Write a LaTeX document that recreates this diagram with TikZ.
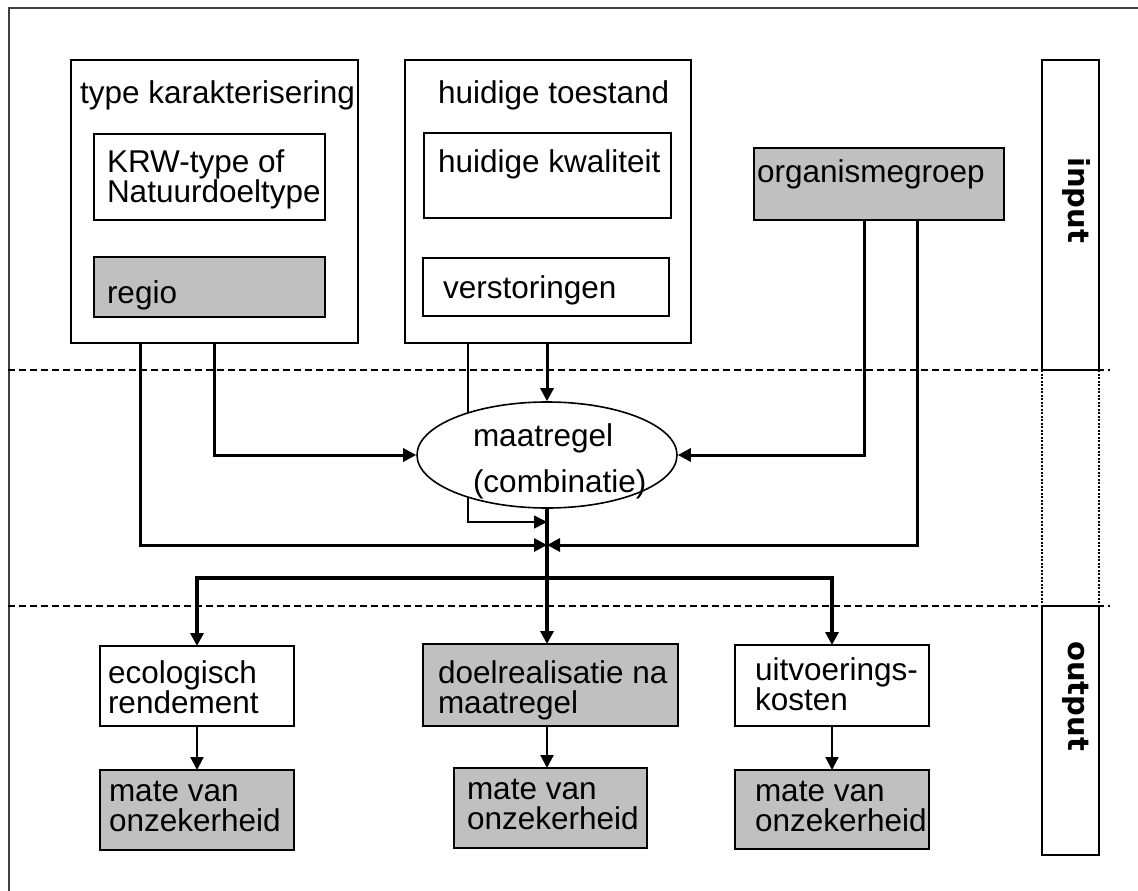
\documentclass[tikz,border=0pt]{standalone}
\usepackage{fontspec}
\setmainfont{Liberation Sans}
\newfontfamily\dv{DejaVu Sans}
\usetikzlibrary{arrows.meta,shapes.geometric}
\definecolor{boxgray}{RGB}{192,192,192}
\begin{document}
\begin{tikzpicture}[x=1pt,y=-1pt,
  box/.style={draw, line width=2pt, anchor=north west, inner sep=0pt, outer sep=0pt},
  graybox/.style={box, fill=boxgray},
  txt/.style={anchor=base west, inner sep=0pt, outer sep=0pt, font=\fontsize{31.5}{30}\selectfont},
  sidetxt/.style={rotate=-90, inner sep=0pt, font=\dv\bfseries\fontsize{29}{30}\selectfont},
  tip/.style={-{Triangle[length=13pt,width=13pt]}},
  conn/.style={tip, line width=3pt},
  thinconn/.style={tip, line width=1.6pt},
  boldconn/.style={tip, line width=4.2pt},
  downconn/.style={tip, line width=2.2pt},
  sepline/.style={line width=2pt, dash pattern=on 7pt off 4pt},
]
\useasboundingbox (0,0) rectangle (1138,891);

% outer frame (top and left edge)
\draw[line width=1.5pt, black!75] (9,891) -- (9,8) -- (1138,8);

% input side boxes
\node[box, minimum width=287pt, minimum height=283pt] (type) at (71,60) {};
\node[box, minimum width=231pt, minimum height=86pt] (krw) at (94,134) {};
\node[graybox, minimum width=231pt, minimum height=60pt] (regio) at (94,257) {};
\node[box, minimum width=286pt, minimum height=283pt] (huid) at (405,60) {};
\node[box, minimum width=247pt, minimum height=85pt] (kwal) at (424,133) {};
\node[box, minimum width=246pt, minimum height=58pt] (verst) at (423,258) {};
\node[graybox, minimum width=250pt, minimum height=72pt] (org) at (754,148) {};

% output side boxes
\node[box, minimum width=194pt, minimum height=80pt] (eco) at (100,646) {};
\node[graybox, minimum width=255pt, minimum height=82pt] (doel) at (423,644) {};
\node[box, minimum width=194pt, minimum height=81pt] (uitv) at (735,645) {};
\node[graybox, minimum width=194pt, minimum height=80pt] (mA) at (100,770) {};
\node[graybox, minimum width=193pt, minimum height=80pt] (mB) at (454,768) {};
\node[graybox, minimum width=194pt, minimum height=79pt] (mC) at (735,770) {};

% right column
\node[box, minimum width=57pt, minimum height=310pt] (inbox) at (1042,60) {};
\node[box, minimum width=57pt, minimum height=249pt] (outbox) at (1042,606) {};
\draw[line width=1.6pt, dash pattern=on 2pt off 1.5pt] (inbox.south west) -- (outbox.north west);
\draw[line width=1.6pt, dash pattern=on 2pt off 1.5pt] (inbox.south east) -- (outbox.north east);
\node[sidetxt] (inlabel) at (1076,200) {input};
\node[sidetxt] (outlabel) at (1076,696) {output};

% separator lines
\draw[sepline] (8,370) -- (1110,370);
\draw[sepline] (8,606) -- (1110,606);

% junction coordinates
\coordinate (jn) at (547,545);
\coordinate (jt) at (547,522);
\coordinate (bar) at (547,578);

% thin line behind the ellipse
\draw[thinconn] ([xshift=63pt]huid.south west) |- (jt);

% ellipse
\node[draw, ellipse, fill=white, line width=1.6pt, minimum width=260pt, minimum height=106pt, inner sep=0pt] (mr) at (547,455) {};

% connectors
\draw[conn] ([xshift=69pt]type.south west) |- (jn);
\draw[conn] ([xshift=143pt]type.south west) |- (mr.west);
\draw[conn] (huid.south -| mr.north) -- (mr.north);
\draw[conn] ([xshift=110pt]org.south west) |- (mr.east);
\draw[conn] ([xshift=163pt]org.south west) |- (jn);
\draw[boldconn] (mr.south) -- (mr.south |- doel.north);
\draw[boldconn] (bar) -| (eco.north);
\draw[boldconn] (bar) -| (uitv.north);
\draw[downconn] (eco.south) -- (eco.south |- mA.north);
\draw[downconn] (mr.south |- doel.south) -- (mr.south |- mB.north);
\draw[downconn] (uitv.south) -- (uitv.south |- mC.north);

% texts
\node[txt] (t1) at (80,103) {type karakterisering};
\node[txt] (t2) at (107,172) {KRW-type of};
\node[txt] (t3) at (107,202) {Natuurdoeltype};
\node[txt] (t4) at (107,303) {regio};
\node[txt] (t5) at (438,103) {huidige toestand};
\node[txt] (t6) at (438,172) {huidige kwaliteit};
\node[txt] (t7) at (443,298) {verstoringen};
\node[txt] (t8) at (757,182) {organismegroep};
\node[txt] (t9) at (473,446) {maatregel};
\node[txt] (t10) at (473,492) {(combinatie)};
\node[txt] (t11) at (108,683) {ecologisch};
\node[txt] (t12) at (108,713) {rendement};
\node[txt] (t13) at (438,683) {doelrealisatie na};
\node[txt] (t14) at (438,713) {maatregel};
\node[txt] (t15) at (755,680) {uitvoerings-};
\node[txt] (t16) at (755,710) {kosten};
\node[txt] (t17) at (109,801) {mate van};
\node[txt] (t18) at (109,831) {onzekerheid};
\node[txt] (t19) at (467,799) {mate van};
\node[txt] (t20) at (467,829) {onzekerheid};
\node[txt] (t21) at (755,801) {mate van};
\node[txt] (t22) at (755,831) {onzekerheid};
\end{tikzpicture}
\end{document}
